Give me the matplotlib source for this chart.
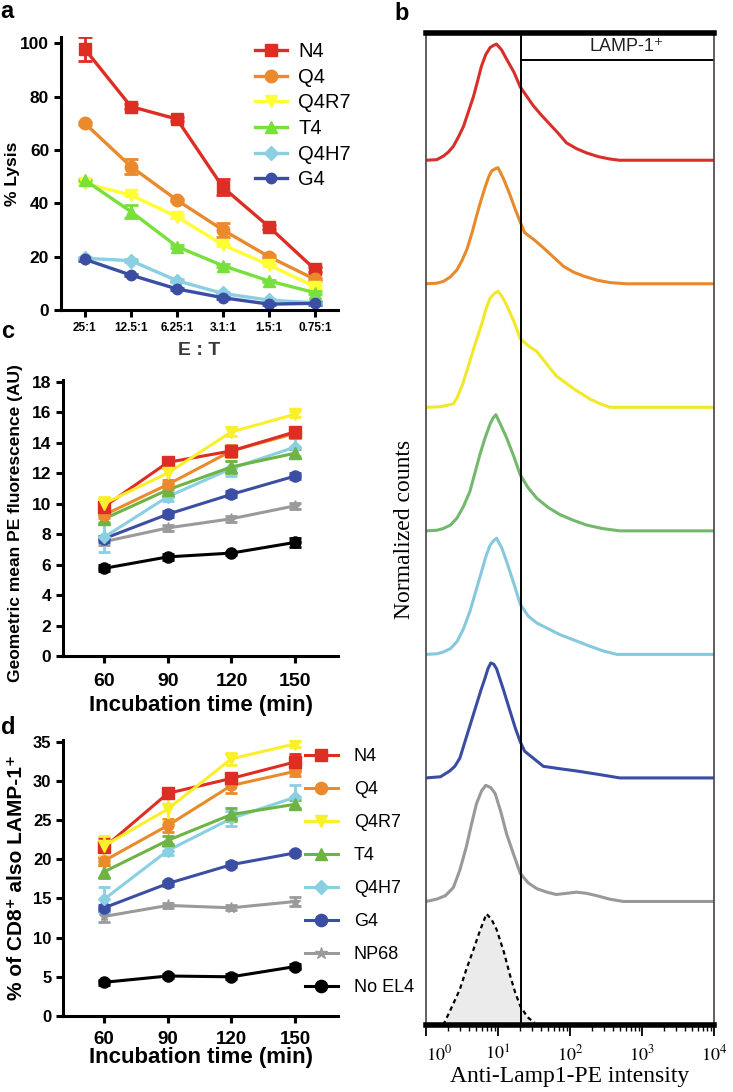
import numpy as np
import matplotlib
matplotlib.use("Agg")
import matplotlib.pyplot as plt
from matplotlib.ticker import FixedLocator, LogLocator, NullFormatter

plt.rcParams['font.family'] = ['Liberation Sans', 'DejaVu Sans']
plt.rcParams['mathtext.fontset'] = 'stix'

W, H = 733, 1092

# ---- panel a data (% lysis vs E:T)
et_labels = ['25:1', '12.5:1', '6.25:1', '3.1:1', '1.5:1', '0.75:1']
lysis_n4 = [97.8, 76.3, 71.6, 46.0, 31.2, 15.2]
lysis_q4 = [70.0, 53.8, 41.2, 30.0, 20.0, 11.5]
lysis_q4r7 = [47.5, 43.1, 35.0, 24.4, 16.9, 8.7]
lysis_t4 = [48.7, 36.9, 23.8, 16.6, 10.9, 6.5]
lysis_q4h7 = [19.4, 18.5, 11.0, 6.2, 3.7, 2.7]
lysis_g4 = [19.0, 13.1, 7.9, 4.6, 2.2, 2.5]
err_n4 = [4.5, 0.8, 0.8, 3.0, 0.8, 0.8]
err_q4 = [0.5, 2.7, 0.5, 2.5, 0.5, 0.5]
err_t4 = [0.5, 2.5, 0.5, 0.5, 0.5, 0.5]
err_small = [0.5, 0.5, 0.5, 0.5, 0.5, 0.5]

# ---- panels c, d data
times = [60, 90, 120, 150]
peptides = ['N4', 'Q4', 'Q4R7', 'T4', 'Q4H7', 'G4', 'NP68', 'No EL4']
mfi_n4 = [9.8, 12.7, 13.45, 14.7]
mfi_q4 = [9.25, 11.25, 13.45, 14.6]
mfi_q4r7 = [10.0, 12.0, 14.7, 15.85]
mfi_t4 = [9.0, 10.9, 12.4, 13.3]
mfi_q4h7 = [7.8, 10.45, 12.3, 13.7]
mfi_g4 = [7.7, 9.3, 10.6, 11.8]
mfi_np68 = [7.5, 8.4, 9.0, 9.85]
mfi_noel4 = [5.75, 6.5, 6.75, 7.45]
mfi_err = [[0.3, 0.3, 0.3, 0.2], [0.2, 0.3, 0.4, 0.3], [0.4, 0.6, 0.3, 0.2],
           [0.3, 0.2, 0.4, 0.3], [1.0, 0.3, 0.5, 0.6], [0.2, 0.2, 0.2, 0.2],
           [0.2, 0.2, 0.2, 0.2], [0.2, 0.2, 0.1, 0.3]]

pct_n4 = [21.5, 28.4, 30.3, 32.4]
pct_q4 = [19.8, 24.3, 29.4, 31.2]
pct_q4r7 = [21.7, 26.4, 32.8, 34.7]
pct_t4 = [18.4, 22.4, 25.7, 27.0]
pct_q4h7 = [14.9, 21.1, 25.2, 27.9]
pct_g4 = [13.8, 16.9, 19.3, 20.8]
pct_np68 = [12.7, 14.1, 13.8, 14.6]
pct_noel4 = [4.3, 5.1, 5.0, 6.3]
pct_err = [[1.2, 0.4, 0.6, 1.0], [0.5, 0.8, 1.0, 0.6], [1.3, 1.5, 0.8, 0.4],
           [0.8, 0.5, 0.8, 0.5], [1.6, 0.6, 1.0, 1.5], [0.4, 0.3, 0.3, 0.3],
           [0.7, 0.3, 0.3, 0.6], [0.3, 0.3, 0.3, 0.3]]

# ---- panel b histograms (log10 intensity, normalized height)
hx_n4 = [0.0, 0.15, 0.24, 0.31, 0.38, 0.45, 0.52, 0.59, 0.66, 0.72, 0.77, 0.83, 0.89, 0.94, 0.98, 1.05, 1.12, 1.22, 1.31, 1.40, 1.49, 1.60, 1.72, 1.84, 1.95, 2.09, 2.23, 2.40, 2.56, 2.69, 4.0]
hy_n4 = [0.0, 0.005, 0.035, 0.07, 0.12, 0.2, 0.29, 0.42, 0.55, 0.69, 0.81, 0.91, 0.97, 0.99, 1.0, 0.95, 0.87, 0.76, 0.63, 0.55, 0.47, 0.39, 0.31, 0.23, 0.15, 0.1, 0.063, 0.03, 0.01, 0.0, 0.0]
hx_q4 = [0.0, 0.15, 0.24, 0.34, 0.43, 0.50, 0.57, 0.64, 0.70, 0.76, 0.82, 0.87, 0.91, 0.96, 1.0, 1.08, 1.17, 1.24, 1.31, 1.37, 1.50, 1.63, 1.77, 1.91, 2.05, 2.19, 2.38, 2.56, 2.78, 4.0]
hy_q4 = [0.0, 0.005, 0.02, 0.06, 0.12, 0.2, 0.30, 0.44, 0.58, 0.71, 0.83, 0.92, 0.97, 0.99, 1.0, 0.9, 0.76, 0.64, 0.53, 0.44, 0.38, 0.31, 0.23, 0.15, 0.1, 0.066, 0.03, 0.01, 0.0, 0.0]
hx_q4r7 = [0.0, 0.2, 0.38, 0.43, 0.51, 0.59, 0.68, 0.77, 0.83, 0.89, 0.95, 1.0, 1.06, 1.12, 1.22, 1.31, 1.42, 1.54, 1.68, 1.81, 2.05, 2.28, 2.42, 2.56, 4.0]
hy_q4r7 = [0.0, 0.005, 0.03, 0.08, 0.2, 0.36, 0.54, 0.71, 0.84, 0.94, 0.98, 1.0, 0.95, 0.88, 0.74, 0.59, 0.53, 0.48, 0.37, 0.27, 0.16, 0.07, 0.03, 0.0, 0.0]
hx_t4 = [0.0, 0.15, 0.24, 0.34, 0.43, 0.52, 0.61, 0.68, 0.75, 0.82, 0.89, 0.93, 0.97, 1.04, 1.12, 1.22, 1.31, 1.42, 1.54, 1.70, 1.86, 2.05, 2.23, 2.45, 2.69, 4.0]
hy_t4 = [0.0, 0.005, 0.02, 0.05, 0.11, 0.21, 0.34, 0.5, 0.66, 0.8, 0.92, 0.97, 1.0, 0.91, 0.80, 0.64, 0.48, 0.37, 0.28, 0.2, 0.14, 0.09, 0.05, 0.02, 0.0, 0.0]
hx_q4h7 = [0.0, 0.15, 0.24, 0.34, 0.43, 0.52, 0.61, 0.69, 0.77, 0.83, 0.89, 0.94, 0.98, 1.05, 1.12, 1.22, 1.31, 1.42, 1.54, 1.70, 1.86, 2.07, 2.28, 2.46, 2.65, 4.0]
hy_q4h7 = [0.0, 0.005, 0.02, 0.05, 0.11, 0.22, 0.37, 0.54, 0.71, 0.84, 0.94, 0.98, 1.0, 0.92, 0.80, 0.61, 0.43, 0.33, 0.27, 0.22, 0.17, 0.12, 0.07, 0.03, 0.0, 0.0]
hx_g4 = [0.0, 0.2, 0.33, 0.40, 0.47, 0.58, 0.70, 0.76, 0.82, 0.86, 0.90, 0.94, 0.98, 1.07, 1.17, 1.24, 1.31, 1.37, 1.49, 1.63, 1.85, 2.09, 2.40, 2.69, 4.0]
hy_g4 = [0.0, 0.01, 0.06, 0.1, 0.17, 0.39, 0.63, 0.75, 0.86, 0.94, 0.99, 0.98, 0.94, 0.77, 0.57, 0.43, 0.31, 0.23, 0.17, 0.10, 0.08, 0.06, 0.03, 0.0, 0.0]
hx_np68 = [0.0, 0.15, 0.27, 0.38, 0.47, 0.56, 0.63, 0.70, 0.77, 0.83, 0.90, 0.96, 1.04, 1.12, 1.22, 1.31, 1.42, 1.54, 1.68, 1.81, 1.95, 2.09, 2.23, 2.37, 2.55, 2.74, 4.0]
hy_np68 = [0.0, 0.02, 0.05, 0.12, 0.27, 0.47, 0.66, 0.84, 0.95, 1.0, 0.98, 0.93, 0.77, 0.58, 0.4, 0.24, 0.16, 0.11, 0.08, 0.06, 0.07, 0.08, 0.07, 0.05, 0.02, 0.0, 0.0]
hx_ctrl = [0.24, 0.35, 0.47, 0.56, 0.66, 0.75, 0.84, 0.91, 0.98, 1.08, 1.17, 1.24, 1.31, 1.41, 1.51]
hy_ctrl = [0.0, 0.15, 0.32, 0.5, 0.68, 0.85, 1.0, 0.95, 0.86, 0.66, 0.44, 0.29, 0.17, 0.07, 0.02]
gate_log = 1.32

c_red = '#DE2D22'
c_orange = '#EA8A2C'
c_green_a = '#78E03A'
c_green = '#6DB444'
c_lblue = '#8ACFE2'
c_blue = '#3B4EA3'
c_gray = '#9A9A9A'
c_black = '#000000'


def ax_px(x0, y0, x1, y1):
    # pixel box (left, top, right, bottom) -> figure fraction
    return [x0 / W, 1 - y1 / H, (x1 - x0) / W, (y1 - y0) / H]


def style_axes(ax):
    for s in ['top', 'right']:
        ax.spines[s].set_visible(False)
    for s in ['left', 'bottom']:
        ax.spines[s].set_linewidth(2.2)
    ax.tick_params(width=2.2, length=5, direction='out')


fig = plt.figure(figsize=(W / 100, H / 100), dpi=100)

# ================= panel a
ax = fig.add_axes(ax_px(61, 36.7, 338, 310))
style_axes(ax)
xs = np.arange(len(et_labels))
series_a = [(lysis_n4, err_n4, c_red, 's', 'N4', 9),
            (lysis_q4, err_q4, c_orange, 'o', 'Q4', 9),
            (lysis_q4r7, err_small, '#FFFF33', 'v', 'Q4R7', 9),
            (lysis_t4, err_t4, c_green_a, '^', 'T4', 9),
            (lysis_q4h7, err_small, c_lblue, 'D', 'Q4H7', 7),
            (lysis_g4, err_small, c_blue, 'o', 'G4', 7.5)]
handles = []
labels = []
for vals, err, col, mk, lab, ms in series_a:
    cont = ax.errorbar(xs, vals, yerr=err, color=col, marker=mk, ms=ms, lw=2.4,
                       capsize=5, capthick=2, elinewidth=2)
    handles.append(cont[0])
    labels.append(lab)
ax.set_xlim(-0.52, 5.5)
ax.set_ylim(0, 102.5)
ax.set_yticks([0, 20, 40, 60, 80, 100])
ax.set_xticks(xs)
ax.set_xticklabels(et_labels, fontsize=8.5, fontweight='bold')
for t in ax.get_yticklabels():
    t.set_fontsize(12.5)
    t.set_fontweight('bold')
ax.set_ylabel('% Lysis', fontsize=12.5, fontweight='bold')
ax.yaxis.set_label_coords(-0.148, 0.5)
ax.set_xlabel('E : T', fontsize=14, fontweight='bold', color='#3a3a3a', labelpad=6)
ax.legend(handles, labels, loc='upper left', bbox_to_anchor=(255 / W, 1 - 42 / H),
          bbox_transform=fig.transFigure, frameon=False, fontsize=14.5,
          handlelength=1.6, handletextpad=0.55, labelspacing=0.33,
          borderpad=0, borderaxespad=0)

# ================= panel c
series_cd = [(c_red, 's'), (c_orange, 'o'), ('#F9EF2A', 'v'), (c_green, '^'),
             (c_lblue, 'D'), (c_blue, 'o'), (c_gray, '*'), (c_black, 'o')]
mfi_all = [mfi_n4, mfi_q4, mfi_q4r7, mfi_t4, mfi_q4h7, mfi_g4, mfi_np68, mfi_noel4]
pct_all = [pct_n4, pct_q4, pct_q4r7, pct_t4, pct_q4h7, pct_g4, pct_np68, pct_noel4]
draw_order = [7, 6, 5, 4, 3, 1, 0, 2]

ax = fig.add_axes(ax_px(63.3, 380, 338.3, 656))
style_axes(ax)
for i in draw_order:
    col, mk = series_cd[i]
    ax.errorbar(times, mfi_all[i], yerr=mfi_err[i], color=col, marker=mk,
                ms=8 if mk != 'D' else 6.5, lw=2.2, capsize=4, capthick=2, elinewidth=2)
ax.set_xlim(40.7, 170.4)
ax.set_ylim(0, 18.1)
ax.set_xticks(times)
ax.set_yticks(range(0, 19, 2))
ax.tick_params(axis='x', pad=7)
for t in ax.get_yticklabels():
    t.set_fontsize(12.5)
    t.set_fontweight('bold')
for t in ax.get_xticklabels():
    t.set_fontsize(14)
    t.set_fontweight('bold')
ax.set_ylabel('Geometric mean PE fluorescence (AU)', fontsize=12.5, fontweight='bold')
ax.yaxis.set_label_coords(-0.147, 0.48)
ax.set_xlabel('Incubation time (min)', fontsize=16, fontweight='bold', labelpad=4)

# ================= panel d
ax = fig.add_axes(ax_px(63.3, 740, 338.3, 1016))
style_axes(ax)
handles = [None] * 8
for i in draw_order:
    col, mk = series_cd[i]
    cont = ax.errorbar(times, pct_all[i], yerr=pct_err[i], color=col, marker=mk,
                       ms=8 if mk != 'D' else 6.5, lw=2.2, capsize=4, capthick=2,
                       elinewidth=2)
    handles[i] = cont[0]
ax.set_xlim(40.7, 170.4)
ax.set_ylim(0, 35.2)
ax.set_xticks(times)
ax.set_yticks(range(0, 36, 5))
ax.tick_params(axis='x', pad=6)
for t in ax.get_yticklabels():
    t.set_fontsize(12)
    t.set_fontweight('bold')
for t in ax.get_xticklabels():
    t.set_fontsize(13.5)
    t.set_fontweight('bold')
ax.set_ylabel('% of CD8⁺ also LAMP-1⁺', fontsize=15, fontweight='bold',
              family=['Liberation Sans', 'DejaVu Sans'])
ax.yaxis.set_label_coords(-0.135, 0.5)
ax.set_xlabel('Incubation time (min)', fontsize=16, fontweight='bold', labelpad=-1)
ax.legend(handles, peptides, loc='upper left', bbox_to_anchor=(305 / W, 1 - 748 / H),
          bbox_transform=fig.transFigure, frameon=False, fontsize=13,
          handlelength=1.8, handletextpad=0.9, labelspacing=0.89,
          borderpad=0, borderaxespad=0, markerscale=1.1)

# ================= panel b
ax = fig.add_axes(ax_px(426, 33, 714, 1025))
ax.set_xscale('log')
peak = 0.94
traces = [(hx_n4, hy_n4, '#D7302A'), (hx_q4, hy_q4, '#E8892B'),
          (hx_q4r7, hy_q4r7, '#F2E82A'), (hx_t4, hy_t4, '#74B86E'),
          (hx_q4h7, hy_q4h7, '#86C9DC'), (hx_g4, hy_g4, '#3A4DA2'),
          (hx_np68, hy_np68, '#999999')]
for k, (hx, hy, col) in enumerate(traces):
    off = 7 - k
    ax.plot(10 ** np.array(hx), off + peak * np.array(hy), color=col, lw=2.2)
cx = 10 ** np.array(hx_ctrl)
cy = 0.9 * np.array(hy_ctrl)
ax.fill_between(cx, 0, cy, color='#ebebeb', lw=0)
ax.plot(cx, cy, color='black', lw=1.6, ls=(0, (2, 1.6)))
ax.set_xlim(1, 1e4)
ax.set_ylim(0, 8.03)
ax.axvline(10 ** gate_log, color='black', lw=1.4)
ax.plot([10 ** gate_log, 1e4], [7.81, 7.81], color='black', lw=1.4)
ax.text(10 ** 2.79, 7.92, 'LAMP-1⁺', ha='center', va='center', fontsize=13,
        color='#222222', family=['Liberation Sans', 'DejaVu Sans'])
ax.spines['top'].set_linewidth(4)
ax.spines['bottom'].set_linewidth(4)
for s in ['left', 'right']:
    ax.spines[s].set_color('#444444')
    ax.spines[s].set_linewidth(1.2)
ax.set_yticks([])
ax.xaxis.set_major_locator(FixedLocator([1, 10, 100, 1000, 10000]))
ax.xaxis.set_minor_locator(LogLocator(base=10, subs=np.arange(2, 10)))
ax.xaxis.set_minor_formatter(NullFormatter())
ax.set_xticklabels(['$10^{0}$', '$10^{1}$', '$10^{2}$', '$10^{3}$', '$10^{4}$'], fontsize=13)
ax.get_xticklabels()[0].set_horizontalalignment('left')
ax.tick_params(axis='x', which='major', length=8, width=1.3, direction='out', pad=6)
ax.tick_params(axis='x', which='minor', length=4, width=1.0, direction='out')
ax.set_xlabel('Anti-Lamp1-PE intensity', fontsize=17, family='Liberation Serif', labelpad=1)
ax.set_ylabel('Normalized counts', fontsize=17, family='Liberation Serif', labelpad=8)

# panel letters
for lab, px, py in [('a', 7, 12), ('b', 402, 14), ('c', 8, 332), ('d', 8, 727)]:
    fig.text(px / W, 1 - py / H, lab, fontsize=17, fontweight='bold',
             ha='center', va='center')

fig.savefig('out.png', dpi=100)
